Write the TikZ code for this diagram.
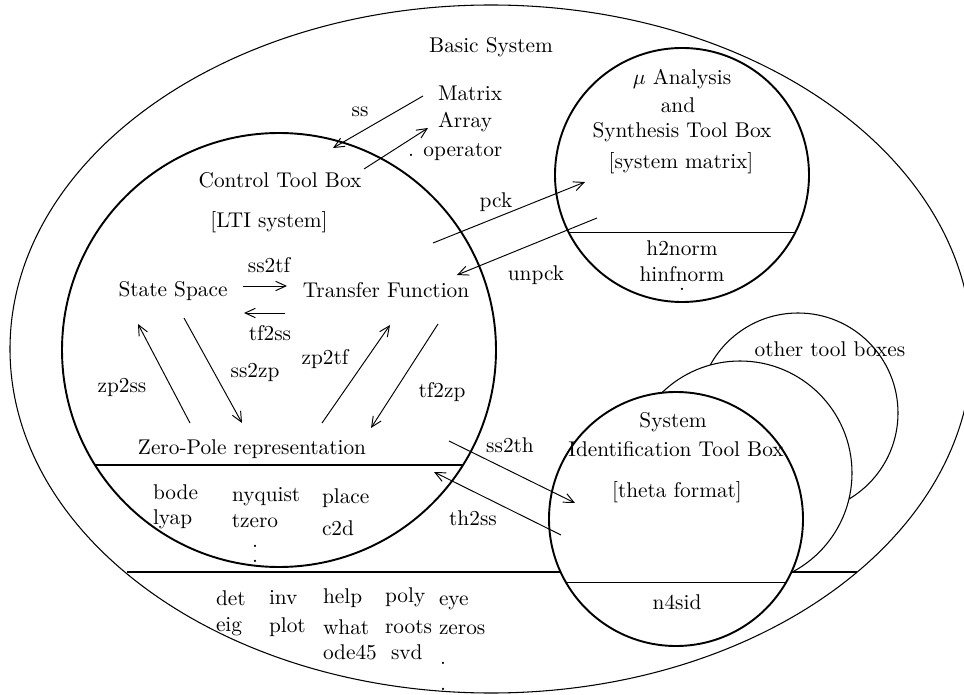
\documentclass[tikz,border=0pt]{standalone}
\usetikzlibrary{arrows.meta,shapes.geometric}
% one drawing unit = 0.469pt, y grows downwards
\newcommand\pxu{0.469pt}
\begin{document}
\begin{tikzpicture}[x=0.469pt,y=-0.469pt,
  lbl/.style={inner sep=0pt, outer sep=0pt, anchor=center},
  lw/.style={inner sep=0pt, outer sep=0pt, anchor=west},
  % multi-line stacks are placed by the baseline of their last line
  stack/.style={inner sep=0pt, outer sep=0pt, align=center, anchor=base},
  arr/.style={-{Straight Barb[length=4.8pt,width=4.4pt]}, line width=0.45pt},
  toolbox/.style={circle, draw, line width=0.9pt, inner sep=0pt, outer sep=0pt, fill=white},
  backbox/.style={circle, draw, line width=0.5pt, inner sep=0pt, outer sep=0pt, fill=white},
  chord/.style={line width=0.5pt}]
\useasboundingbox (0,0) rectangle (964,695);

% Basic System
\node[ellipse, draw, line width=0.5pt, inner sep=0pt, outer sep=0pt,
      minimum width=962*\pxu, minimum height=688*\pxu] (basic) at (491,349) {};
\coordinate (baseL) at (127,572);
\coordinate (baseR) at (857,572);
\draw[chord] (baseL) -- (baseR);

% Control Tool Box
\node[toolbox, fill=none, minimum size=434*\pxu] (ctrl) at (279,350) {};
\draw[chord] (ctrl.212.6) -- (ctrl.-32.6);

% mu Analysis and Synthesis Tool Box
\node[toolbox, minimum size=254*\pxu] (mu) at (682,175) {};
\draw[chord] (mu.207.2) -- (mu.-27.2);

% other tool boxes stacked behind the System Identification Tool Box
\node[backbox, minimum size=200*\pxu] (other3) at (798,413) {};
\node[backbox, minimum size=224*\pxu] (other2) at (740,473) {};
\node[toolbox, minimum size=254*\pxu] (sysid) at (676,519) {};
\draw[chord] (sysid.210.3) -- (sysid.-30.3);

% texts of the Basic System
\node[lbl] (basiclbl) at (491,47) {Basic System};
\node[lw] (matrix) at (438,93) {Matrix};
\node[lw] (array) at (438,122) {Array};
\node[lw] (operator) at (408,152) {. operator};

\node[lw] (det) at (216,598) {det};
\node[lw] (eig) at (216,627) {eig};
\node[lw] (inv) at (269,598) {inv};
\node[lw] (plot) at (269,627) {plot};
\node[lw] (help) at (323,598) {help};
\node[lw] (what) at (323,627) {what};
\node[lw] (ode) at (323,652) {ode45};
\node[lw] (poly) at (385,597) {poly};
\node[lw] (roots) at (385,627) {roots};
\node[lw] (svd) at (391,652) {svd};
\node[lw] (eye) at (439,603) {eye};
\node[lw] (zeros) at (439,630) {zeros};
\node[stack] (bdots) at (443,690) {.\\.};

% texts of the Control Tool Box
\node[lbl] (ctbox) at (280,180) {Control Tool Box};
\node[lbl] (lti) at (269,222) {[LTI system]};
\node[lbl] (ssp) at (173,291) {State Space};
\node[lbl] (tfn) at (386,290) {Transfer Function};
\node[lbl] (zpr) at (252,449) {Zero-Pole representation};
\node[lw] (bode) at (153,492) {bode};
\node[lw] (lyap) at (153,519) {lyap};
\node[lw] (nyq) at (232,497) {nyquist};
\node[stack] (tzero) at (255,562) {tzero\\[-2.6pt].\\[-5.4pt].};
\node[lw] (place) at (322,498) {place};
\node[lw] (ctod) at (322,528) {c2d};

% texts of the mu tool box
\node[lbl] (mu1) at (682,79) {$\mu$ Analysis};
\node[lbl] (mu2) at (678,105) {and};
\node[lbl] (mu3) at (682,132) {Synthesis Tool Box};
\node[lbl] (mu4) at (681,163) {[system matrix]};
\node[lbl] (h2) at (682,248) {h2norm};
\node[stack] (hinf) at (682,291) {hinfnorm\\[-7.6pt].};

% texts of the System Identification Tool Box
\node[lbl] (sid1) at (673,422) {System};
\node[lbl] (sid2) at (676,449) {Identification Tool Box};
\node[lbl] (sid3) at (677,492) {[theta format]};
\node[lbl] (n4sid) at (677,602) {n4sid};
\node[lbl] (others) at (830,349) {other tool boxes};

% conversion arrows
\coordinate (ssA) at (423,96);   \coordinate (ssB) at (333,148);
\coordinate (opA) at (364,169);  \coordinate (opB) at (428,128);
\coordinate (sstfA) at (243,286); \coordinate (sstfB) at (287,286);
\coordinate (tfssA) at (285,313); \coordinate (tfssB) at (244,313);
\coordinate (zpssA) at (190,423); \coordinate (zpssB) at (138,324);
\coordinate (sszpA) at (184,318); \coordinate (sszpB) at (242,423);
\coordinate (zptfA) at (322,423); \coordinate (zptfB) at (390,325);
\coordinate (tfzpA) at (438,324); \coordinate (tfzpB) at (371,428);
\coordinate (pckA) at (433,243);  \coordinate (pckB) at (585,182);
\coordinate (upkA) at (597,218);  \coordinate (upkB) at (457,275);
\coordinate (ssthA) at (449,441); \coordinate (ssthB) at (575,503);
\coordinate (thssA) at (561,535); \coordinate (thssB) at (434,472);

\draw[arr] (ssA) -- (ssB);
\draw[arr] (opA) -- (opB);
\draw[arr] (sstfA) -- (sstfB);
\draw[arr] (tfssA) -- (tfssB);
\draw[arr] (zpssA) -- (zpssB);
\draw[arr] (sszpA) -- (sszpB);
\draw[arr] (zptfA) -- (zptfB);
\draw[arr] (tfzpA) -- (tfzpB);
\draw[arr] (pckA) -- (pckB);
\draw[arr] (upkA) -- (upkB);
\draw[arr] (ssthA) -- (ssthB);
\draw[arr] (thssA) -- (thssB);

% arrow labels
\node[lbl] (ssl) at (360,112) {ss};
\node[lbl] (sstfl) at (269,265) {ss2tf};
\node[lbl] (tfssl) at (270,333) {tf2ss};
\node[lbl] (zpssl) at (122,387) {zp2ss};
\node[lbl] (sszpl) at (255,372) {ss2zp};
\node[lbl] (zptfl) at (325,359) {zp2tf};
\node[lbl] (tfzpl) at (442,392) {tf2zp};
\node[lbl] (pckl) at (496,202) {pck};
\node[lbl] (upkl) at (536,275) {unpck};
\node[lbl] (ssthl) at (510,445) {ss2th};
\node[lbl] (thssl) at (473,518) {th2ss};
\end{tikzpicture}
\end{document}
